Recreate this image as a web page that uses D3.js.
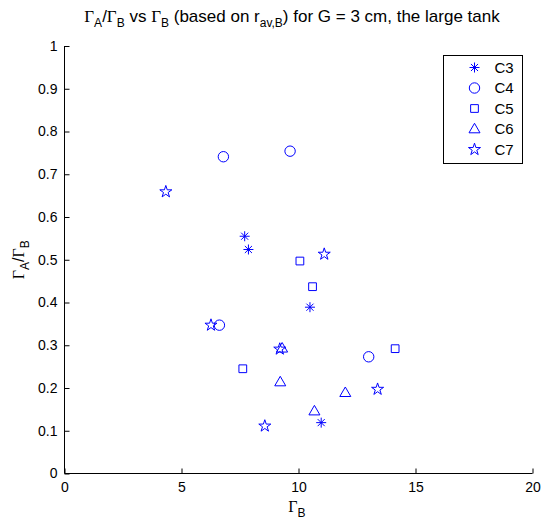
<!DOCTYPE html>
<html>
<head>
<meta charset="utf-8">
<script src="https://cdn.jsdelivr.net/npm/d3@7"></script>
<style>
  body { margin: 0; background: #fff; }
  text { font-family: "Liberation Sans", Arial, sans-serif; }
</style>
</head>
<body>
<svg id="chart" width="544" height="529"></svg>
<script>
// series values: [Gamma_B, Gamma_A/Gamma_B]
const c3 = [[7.70, 0.555], [7.86, 0.524], [10.49, 0.389], [10.97, 0.119]];
const c4 = [[6.79, 0.741], [9.64, 0.754], [6.62, 0.347], [13.0, 0.273]];
const c5 = [[10.06, 0.497], [10.60, 0.437], [7.62, 0.245], [14.13, 0.292]];
const c6 = [[9.30, 0.293], [9.22, 0.214], [10.68, 0.146], [12.0, 0.189]];
const c7 = [[4.33, 0.659], [11.10, 0.513], [6.26, 0.347], [9.20, 0.291], [13.38, 0.197], [8.56, 0.111]];

const seriesNames = ["C3", "C4", "C5", "C6", "C7"];
const seriesData  = [c3, c4, c5, c6, c7];
const xTicks = [0, 5, 10, 15, 20];
const yTicks = d3.range(0, 11).map(i => i / 10);

const svg = d3.select("#chart");
const blue = "#0000ff";

const x = d3.scaleLinear().domain([0, 20]).range([64.5, 532.5]);
const y = d3.scaleLinear().domain([0, 1]).range([473.5, 46]);

// marker paths (MATLAB style: *, o, s, ^, p)
function asterisk(r) {
  const d = r * Math.SQRT1_2;
  return `M${-r},0L${r},0M0,${-r}L0,${r}M${-d},${-d}L${d},${d}M${-d},${d}L${d},${-d}`;
}
const markers = [
  () => asterisk(5),
  d3.symbol(d3.symbolCircle, 85),
  d3.symbol(d3.symbolSquare, 60),
  () => {
    const s = 11, h = s * Math.sqrt(3) / 2;
    return `M0,${-h * 0.6}L${s / 2},${h * 0.4}L${-s / 2},${h * 0.4}Z`;
  },
  d3.symbol(d3.symbolStar, 45)
];

// axes (left and bottom only, ticks inside)
const xAxis = d3.axisBottom(x).tickValues(xTicks).tickSize(-5).tickPadding(9).tickFormat(d3.format("d"));
const yAxis = d3.axisLeft(y).tickValues(yTicks).tickSize(-5).tickPadding(7)
  .tickFormat(d => d === 0 || d === 1 ? d3.format("d")(d) : d3.format(".1f")(d));

const gx = svg.append("g").attr("transform", `translate(0,${y(0)})`).call(xAxis);
const gy = svg.append("g").attr("transform", `translate(${x(0)},0)`).call(yAxis);
[gx, gy].forEach(g => {
  g.select(".domain").attr("stroke", "#000").attr("stroke-width", 1);
  g.selectAll(".tick line").attr("stroke", "#000");
  g.selectAll("text").attr("font-size", 14).attr("fill", "#000")
    .attr("font-family", "Liberation Sans, Arial, sans-serif");
});
gy.select(".domain").attr("d", `M0,${y(1)}V${y(0)}`);
gx.select(".domain").attr("d", `M0,0H${x(20) - x(0)}`).attr("transform", `translate(${x(0)},0)`);

// data markers
seriesData.forEach((pts, i) => {
  svg.append("g")
    .selectAll("path")
    .data(pts)
    .join("path")
    .attr("d", markers[i])
    .attr("transform", d => `translate(${x(d[0])},${y(d[1])})`)
    .attr("fill", "none")
    .attr("stroke", blue)
    .attr("stroke-width", 1);
});

const serif = "Liberation Serif, Times New Roman, serif";

// title
const title = svg.append("text")
  .attr("x", 292).attr("y", 22)
  .attr("text-anchor", "middle")
  .attr("font-size", 17)
  .attr("fill", "#000");
title.append("tspan").attr("font-family", serif).text("Γ");
title.append("tspan").attr("font-size", 12).attr("dy", 5).text("A");
title.append("tspan").attr("dy", -5).text("/");
title.append("tspan").attr("font-family", serif).text("Γ");
title.append("tspan").attr("font-size", 12).attr("dy", 5).text("B");
title.append("tspan").attr("dy", -5).text(" vs ");
title.append("tspan").attr("font-family", serif).text("Γ");
title.append("tspan").attr("font-size", 12).attr("dy", 5).text("B");
title.append("tspan").attr("dy", -5).text(" (based on r");
title.append("tspan").attr("font-size", 12).attr("dy", 5).text("av,B");
title.append("tspan").attr("dy", -5).text(") for G = 3 cm, the large tank");

// x label
const xl = svg.append("text")
  .attr("x", 297).attr("y", 512)
  .attr("text-anchor", "middle").attr("font-size", 16).attr("fill", "#000");
xl.append("tspan").attr("font-family", serif).text("Γ");
xl.append("tspan").attr("font-size", 12).attr("dy", 5).text("B");

// y label
const yl = svg.append("text")
  .attr("transform", `translate(24,${y(0.5)}) rotate(-90)`)
  .attr("text-anchor", "middle").attr("font-size", 16).attr("fill", "#000");
yl.append("tspan").attr("font-family", serif).text("Γ");
yl.append("tspan").attr("font-size", 12).attr("dy", 5).text("A");
yl.append("tspan").attr("dy", -5).text("/");
yl.append("tspan").attr("font-family", serif).text("Γ");
yl.append("tspan").attr("font-size", 12).attr("dy", 5).text("B");

// legend
const lg = svg.append("g").attr("transform", "translate(443.5,55.5)");
lg.append("rect").attr("width", 79).attr("height", 108)
  .attr("fill", "#fff").attr("stroke", "#000").attr("stroke-width", 1);
seriesNames.forEach((name, i) => {
  const yy = 12 + i * 20.5;
  lg.append("path").attr("d", markers[i]).attr("transform", `translate(31,${yy})`)
    .attr("fill", "none").attr("stroke", blue).attr("stroke-width", 1);
  lg.append("text").attr("x", 51).attr("y", yy + 5).attr("font-size", 15)
    .attr("fill", "#000").text(name);
});
</script>
</body>
</html>
